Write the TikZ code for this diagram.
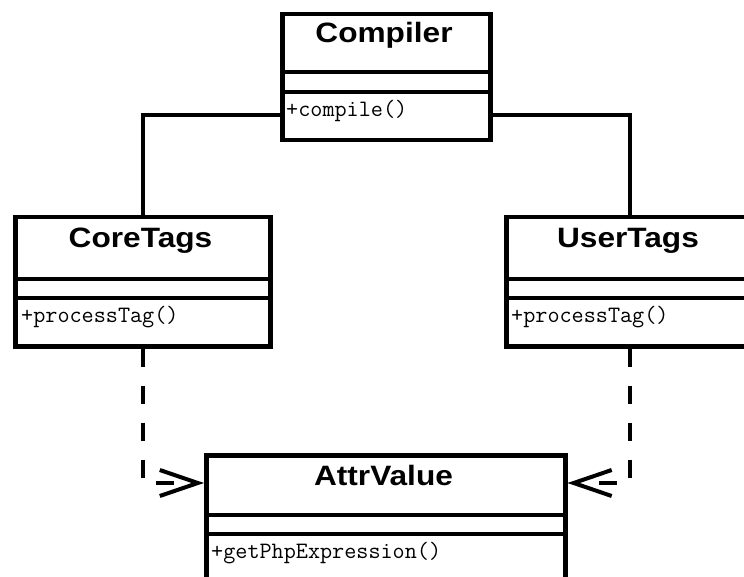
\documentclass[tikz,border=0pt]{standalone}
\usepackage{fontspec}
\newfontfamily\titlefont[FakeStretch=1.13]{Liberation Sans}
\usetikzlibrary{arrows.meta}
\tikzset{
  umlbox/.style={draw, line width=4.5pt, inner sep=0pt, anchor=north west, fill=white},
  divider/.style={line width=4.5pt},
  titletext/.style={inner sep=0pt, anchor=base, font=\titlefont\bfseries\fontsize{28}{30}\selectfont},
  methodtext/.style={inner sep=0pt, anchor=base west, font=\ttfamily\fontsize{23.5}{25}\selectfont},
  assoc/.style={line width=4pt},
  dep/.style={line width=4pt, dash pattern=on 18pt off 19pt, -{Straight Barb[length=38pt, width=26pt, line width=4pt]}}
}
\begin{document}
\begin{tikzpicture}[x=1pt, y=-1pt]
\useasboundingbox (0,0) rectangle (744,577);
\fill[white] (0,0) rectangle (744,577);
% boxes
\node[umlbox, minimum width=208pt, minimum height=126pt] (compiler) at (280,12) {};
\node[umlbox, minimum width=255pt, minimum height=129pt] (coretags) at (13,215) {};
\node[umlbox, minimum width=248pt, minimum height=129pt] (usertags) at (504,215) {};
\node[umlbox, minimum width=359pt, minimum height=140pt] (attr) at (204,453) {};
% dividers
\draw[divider] (280,72) -- (488,72);
\draw[divider] (280,92) -- (488,92);
\draw[divider] (13,279) -- (268,279);
\draw[divider] (13,298) -- (268,298);
\draw[divider] (504,279) -- (752,279);
\draw[divider] (504,298) -- (752,298);
\draw[divider] (204,515) -- (563,515);
\draw[divider] (204,534) -- (563,534);
% texts
\node[titletext] (tcompiler) at (384,43) {Compiler};
\node[titletext] (tcore) at (140.5,248) {CoreTags};
\node[titletext] (tuser) at (628,248) {UserTags};
\node[titletext] (tattr) at (383.5,485) {AttrValue};
\node[methodtext] (mcompiler) at (286,117) {+compile()};
\node[methodtext] (mcore) at (21,323) {+processTag()};
\node[methodtext] (muser) at (511,323) {+processTag()};
\node[methodtext] (mattr) at (211,558) {+getPhpExpression()};
% connectors
\coordinate (ylevel) at (0,115);
\coordinate (dlevel) at (0,483);
\draw[assoc] (compiler.west |- ylevel) -| (coretags.north);
\draw[assoc] (compiler.east |- ylevel) -| (usertags.north);
\draw[dep] (coretags.south) |- (attr.west |- dlevel);
\draw[dep] (usertags.south) |- (attr.east |- dlevel);
\end{tikzpicture}
\end{document}
